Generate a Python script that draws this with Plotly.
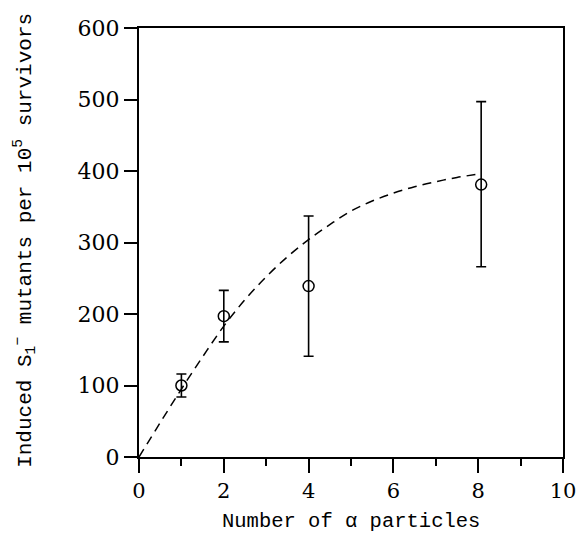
import plotly.graph_objects as go

# data points
alpha_n = [1, 2, 4, 8.07]
mutants = [100, 197, 239, 381]
err_plus = [16, 36, 98, 116]
err_minus = [16, 36, 98, 115]

# dashed fitted curve
curve_x = [0, 0.5, 1, 1.5, 2, 2.5, 3, 3.5, 4, 4.5, 5, 5.5, 6, 6.5, 7, 7.5, 8.05]
curve_y = [0, 48, 95, 140, 183, 220, 252, 280, 304, 325, 344, 358, 369, 378, 385, 391, 396]

x_ticks = [0, 2, 4, 6, 8, 10]
y_ticks = [0, 100, 200, 300, 400, 500, 600]

fig = go.Figure()
fig.add_trace(go.Scatter(
    x=curve_x, y=curve_y, mode="lines", line=dict(color="black", width=1.5, dash="9px,6px", shape="spline"),
    hoverinfo="skip", showlegend=False))
fig.add_trace(go.Scatter(
    x=alpha_n, y=mutants, mode="markers",
    marker=dict(symbol="circle-open", size=11, color="black", line=dict(width=1.5, color="black")),
    error_y=dict(type="data", symmetric=False, array=err_plus, arrayminus=err_minus,
                 color="black", thickness=1.6, width=5),
    showlegend=False))

serif = "DejaVu Serif"
mono = "Liberation Mono"
fig.update_layout(
    width=577, height=554,
    margin=dict(l=139, r=14, t=28, b=97, autoexpand=False),
    paper_bgcolor="white", plot_bgcolor="white",
    font=dict(family=serif, color="black"),
    xaxis=dict(range=[0, 10], tickvals=x_ticks, ticks="outside", ticklen=14, tickwidth=1.5,
               tickcolor="black", showgrid=False, zeroline=False, showline=True, linecolor="black",
               linewidth=2, mirror=True, tickfont=dict(family=serif, size=21), automargin=False,
               minor=dict(tickvals=[1, 3, 5, 7, 9], ticks="outside", ticklen=7, tickwidth=1.5, tickcolor="black")),
    yaxis=dict(range=[0, 600], tickvals=y_ticks, ticks="outside", ticklen=13, tickwidth=1.5,
               tickcolor="black", showgrid=False, zeroline=False, showline=True, linecolor="black",
               linewidth=2, mirror=True, tickfont=dict(family=serif, size=22), automargin=False),
    annotations=[
        dict(text="Number of α particles", xref="paper", yref="paper", x=0.5, y=-0.1515,
             xanchor="center", yanchor="middle", showarrow=False, font=dict(family=mono, size=20.5)),
        dict(text="Induced S<sub>1</sub><sup>−</sup> mutants per 10<sup>5</sup> survivors",
             xref="paper", yref="paper", x=-0.269, y=0.506, textangle=-90,
             xanchor="center", yanchor="middle", showarrow=False, font=dict(family=mono, size=21)),
    ],
)
fig.write_html("out.html", config={"displayModeBar": False},
               post_script="document.body.style.margin='0';document.body.style.overflow='hidden';")
